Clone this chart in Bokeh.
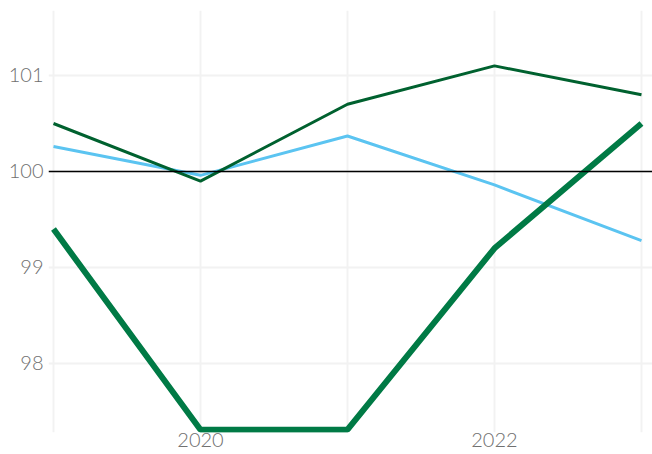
from bokeh.plotting import figure
from bokeh.models import Span, FixedTicker, Range1d
from bokeh.embed import file_html
from bokeh.resources import INLINE

years = [2019, 2020, 2021, 2022, 2023]
series_dark = [100.5, 99.9, 100.7, 101.1, 100.8]
series_blue = [100.26, 99.96, 100.37, 99.86, 99.28]
series_thick = [99.4, 97.31, 97.31, 99.2, 100.5]
y_ticks = [98, 99, 100, 101]
x_label_years = [2020, 2022]

p = figure(frame_width=604, frame_height=422, output_backend="svg",
           toolbar_location=None,
           x_range=Range1d(2018.966, 2023.075), y_range=Range1d(97.281, 101.677),
           min_border_left=48, min_border_right=0, min_border_top=10, min_border_bottom=22)
p.outline_line_color = None
p.background_fill_color = "white"
p.border_fill_color = "white"

p.line(years, series_blue, line_color="#5BC4F1", line_width=3)
p.line(years, series_dark, line_color="#00612F", line_width=3)
p.line(years, series_thick, line_color="#007A45", line_width=6)
p.add_layout(Span(location=100, dimension="width", line_color="black", line_width=1.5))

p.xaxis.ticker = FixedTicker(ticks=years)
p.xaxis.major_label_overrides = {y: (str(y) if y in x_label_years else "") for y in years}
p.yaxis.ticker = FixedTicker(ticks=y_ticks)

for ax in (p.xaxis, p.yaxis):
    ax.axis_line_color = None
    ax.major_tick_line_color = None
    ax.minor_tick_line_color = None
    ax.major_tick_out = 0
    ax.major_tick_in = 0
    ax.major_label_text_font = "'Lato Light', Lato"
    ax.major_label_text_font_size = "20px"
    ax.major_label_text_color = "#707070"
p.xaxis.major_label_standoff = 0
p.yaxis.major_label_standoff = 5

p.xgrid.grid_line_color = "#f2f2f2"
p.ygrid.grid_line_color = "#f2f2f2"
p.xgrid.grid_line_width = 2
p.ygrid.grid_line_width = 2

open("out.html", "w").write(file_html(p, INLINE))
